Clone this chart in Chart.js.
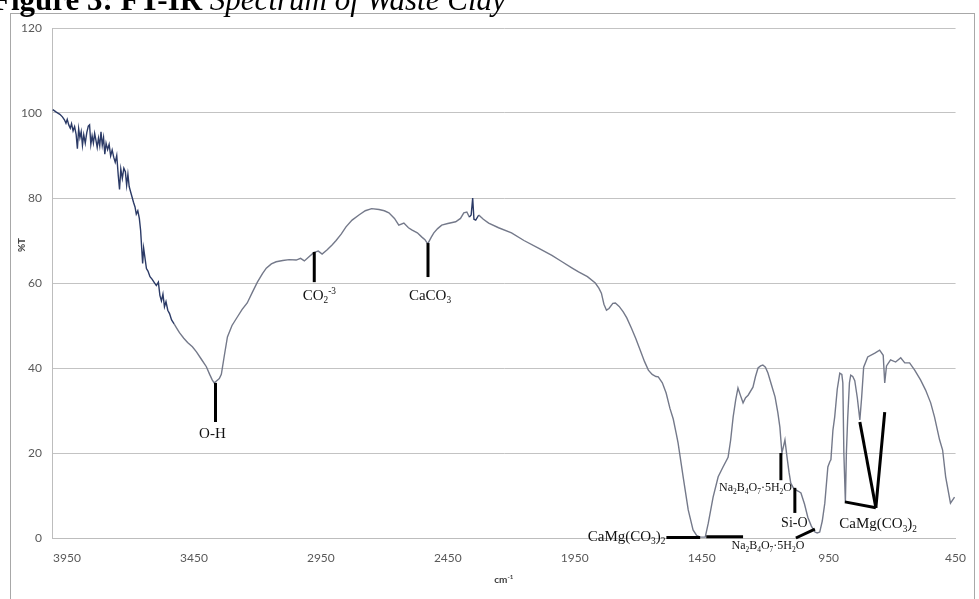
<!DOCTYPE html>
<html><head><meta charset="utf-8">
<script src="https://cdn.jsdelivr.net/npm/chart.js@4.4.1/dist/chart.umd.min.js"></script>
<style>html,body{margin:0;padding:0;background:#fff;overflow:hidden}#wrap{width:979px;height:599px;position:relative}canvas{display:block}</style>
</head><body><div id="wrap"><canvas id="c" width="979" height="599" style="width:979px;height:599px"></canvas></div>
<script>
// ---- data ----
const wavenumbers = [
4006,3992,3978,3968,3960,3954,3949,3943,3937,3932,3926,3920,3914,3909,3904,3899,3894,3889,3884,3878,
3872,3866,3861,3856,3851,3846,3841,3836,3831,3826,3821,3816,3811,3806,3801,3796,3790,3784,3778,3772,
3766,3760,3754,3748,3743,3738,3732,3726,3720,3715,3710,3705,3700,3694,3688,3682,3677,3671,3665,3660,
3656,3652,3648,3643,3637,3631,3623,3615,3606,3598,3590,3584,3578,3572,3566,3560,3553,3546,3538,3528,
3518,3507,3490,3475,3456,3440,3420,3401,3388,3378,3370,3360,3350,3342,3330,3318,3300,3279,3260,3240,
3220,3200,3180,3165,3145,3126,3100,3075,3047,3030,3015,3000,2977,2960,2945,2925,2905,2890,2870,2851,
2827,2800,2775,2750,2721,2700,2682,2660,2643,2623,2605,2592,2570,2552,2540,2529,2515,2505,2490,2474,
2450,2419,2400,2387,2375,2365,2358,2352,2347,2340,2328,2310,2289,2250,2199,2150,2093,2040,2000,1960,
1935,1900,1869,1855,1845,1835,1825,1815,1800,1790,1775,1759,1745,1727,1710,1692,1675,1660,1645,1630,
1621,1605,1590,1575,1562,1550,1543,1523,1503,1484,1470,1456,1436,1424,1405,1385,1366,1346,1336,1326,
1316,1307,1297,1287,1277,1267,1248,1238,1228,1218,1209,1199,1189,1175,1161,1150,1142,1134,1128,1122,
1114,1106,1099,1089,1079,1069,1059,1045,1032,1018,1004,995,985,975,965,953,945,941,933,926,
916,906,898,894,890,884,880,875,868,863,855,847,837,827,820,812,796,768,749,735,
729,722,706,686,666,650,631,611,588,568,548,533,513,501,489,470,454
];
const transmittance = [
100.8,100.2,99.7,99.1,98.4,97.6,98.5,97.2,96.4,97.5,95.8,96.8,95.0,91.6,96.3,94.2,95.6,92.4,94.9,92.9,
95.4,96.9,97.2,92.6,94.6,92.9,95.2,93.6,91.9,94.1,92.3,95.6,92.4,94.2,90.3,92.9,91.4,92.6,89.9,91.3,
89.6,88.4,90.0,85.3,82.0,86.8,84.6,87.0,86.2,83.0,85.6,82.7,81.6,80.3,79.0,77.9,76.2,77.0,75.2,72.4,
68.5,64.6,68.2,66.0,63.4,62.8,61.5,60.9,60.1,59.4,60.2,57.1,55.8,57.4,54.4,55.6,53.6,52.8,51.3,50.4,
49.4,48.3,47.0,46.0,45.0,43.8,42.0,40.3,38.5,37.2,36.5,37.0,37.5,38.5,43.0,47.3,50.0,52.0,53.8,55.3,
57.8,60.2,62.2,63.5,64.5,65.0,65.3,65.5,65.4,65.8,65.2,66.0,67.2,67.5,66.8,67.8,69.0,70.0,71.5,73.2,
74.8,76.0,77.0,77.5,77.3,77.0,76.5,75.2,73.6,74.1,73.0,72.5,71.8,70.8,70.2,69.2,70.8,71.8,72.8,73.6,
74.0,74.4,75.2,76.5,76.7,75.5,76.0,80.0,75.0,74.8,76.0,75.0,74.1,73.0,71.8,70.0,68.2,66.5,65.0,63.5,
62.6,61.5,60.0,58.8,57.6,55.0,53.6,54.0,55.2,55.3,54.5,53.2,51.8,49.4,47.0,44.2,41.5,39.5,38.5,38.0,
37.9,36.5,34.1,30.5,28.0,24.5,22.4,14.4,6.6,1.9,0.6,0.2,0.2,3.5,9.6,14.4,16.7,19.0,23.0,28.5,
32.5,35.3,33.5,31.8,33.0,33.6,35.5,38.0,40.0,40.5,40.7,40.2,38.8,36.0,33.2,29.5,26.1,20.0,21.5,23.1,
19.1,15.5,12.9,11.8,11.3,11.0,10.6,8.0,4.9,2.8,1.4,1.2,1.4,4.0,8.2,16.7,18.0,18.4,25.4,28.5,
35.0,38.8,38.5,36.5,20.0,8.5,20.0,28.0,36.5,38.3,38.0,37.0,33.0,27.8,33.0,40.2,42.6,43.5,44.2,43.0,
36.5,40.5,41.9,41.4,42.4,41.2,41.2,39.5,37.2,34.8,31.8,28.5,23.1,20.7,14.4,8.2,9.6
];
const xTickValues = [3950,3450,2950,2450,1950,1450,950,450];
const yTickValues = [0,20,40,60,80,100,120];

// peak assignment labels: text parts [text, kind], anchored in data units
const NA = [['Na','n'],['2','sub'],['B','n'],['4','sub'],['O','n'],['7','sub'],['\u00b75H','n'],['2','sub'],['O','n']];
const CAMG = [['CaMg(CO','n'],['3','sub'],[')','n'],['2','sub']];
const annotationLabels = [
  {parts:[['O-H','n']], wn:3377, t:24.7, size:15, align:'center'},
  {parts:[['CO','n'],['2','sub'],['-3','sup']], wn:2956, t:57.2, size:15, align:'center'},
  {parts:[['CaCO','n'],['3','sub']], wn:2520, t:57.2, size:15, align:'center'},
  {parts:CAMG, wn:1593, t:0.6, size:15, align:'right'},
  {parts:NA, wn:1189, t:-1.7, size:12, align:'center'},
  {parts:NA, wn:1238, t:12.0, size:12, align:'center'},
  {parts:[['Si-O','n']], wn:1085, t:3.8, size:14, align:'center'},
  {parts:CAMG, wn:755, t:3.5, size:15, align:'center'}
];
const annotationLines = [
  [[3365,36.5],[3365,27.3]],
  [[2976,67.3],[2976,60.2]],
  [[2528,69.4],[2528,61.4]],
  [[1589,0.1],[1456,0.1]],
  [[1432,0.3],[1287,0.3]],
  [[1138,20.0],[1138,13.6]],
  [[1083,11.8],[1083,5.9]],
  [[1079,0.0],[1004,2.1]],
  [[886,8.5],[764,7.1]],
  [[827,27.3],[764,7.1]],
  [[729,29.6],[764,7.1]]
];

function drawRich(ctx, parts, x, y, size, align, family, weight) {
  const segs = parts.map(([t,k]) => {
    const fs = k === 'n' ? size : size * 0.62;
    ctx.font = (weight||'') + ' ' + fs + 'px ' + family;
    return {t, k, fs, w: ctx.measureText(t).width};
  });
  const total = segs.reduce((a,s)=>a+s.w,0);
  let sx = align === 'center' ? x - total/2 : (align === 'right' ? x - total : x);
  const base = y + size * 0.34;
  ctx.textBaseline = 'alphabetic';
  ctx.textAlign = 'left';
  for (const s of segs) {
    const dy = s.k === 'sub' ? size*0.22 : (s.k === 'sup' ? -size*0.42 : 0);
    ctx.font = (weight||'') + ' ' + s.fs + 'px ' + family;
    ctx.fillText(s.t, sx, base + dy);
    sx += s.w;
  }
}

const decorPlugin = {
  id: 'decor',
  beforeDraw(chart) {
    const ctx = chart.ctx;
    ctx.save();
    ctx.fillStyle = '#fff';
    ctx.fillRect(0,0,chart.width,chart.height);
    ctx.strokeStyle = '#a8a8a8';
    ctx.lineWidth = 1;
    ctx.strokeRect(10.5, 13.5, 964, 640);
    ctx.restore();
  },
  afterDraw(chart) {
    const ctx = chart.ctx;
    const xs = chart.scales.x, ys = chart.scales.y;
    ctx.save();
    // figure caption (clipped at top in the reference)
    ctx.fillStyle = '#000';
    ctx.textBaseline = 'alphabetic';
    ctx.textAlign = 'left';
    ctx.font = 'bold 31px "Liberation Serif"';
    const t1 = 'Figure 3: FT-IR ';
    ctx.fillText(t1, -8, 10);
    const w1 = ctx.measureText(t1).width;
    ctx.font = 'italic 31px "Liberation Serif"';
    ctx.fillText('Spectrum of Waste Clay', -8 + w1, 10);
    // axis titles
    ctx.fillStyle = '#404040';
    ctx.save();
    ctx.translate(22, 245);
    ctx.rotate(-Math.PI/2);
    ctx.font = 'bold 10px Lato';
    ctx.textAlign = 'center';
    ctx.textBaseline = 'middle';
    ctx.fillText('%T', 0, 0);
    ctx.restore();
    drawRich(ctx, [['cm','n'],['-1','sup']], (xs.left+xs.right)/2, 580, 10, 'center', 'Lato', 'bold');
    // peak marker lines
    ctx.strokeStyle = '#000';
    ctx.lineWidth = 3;
    ctx.lineCap = 'butt';
    for (const [a,b] of annotationLines) {
      ctx.beginPath();
      ctx.moveTo(xs.getPixelForValue(a[0]), ys.getPixelForValue(a[1]));
      ctx.lineTo(xs.getPixelForValue(b[0]), ys.getPixelForValue(b[1]));
      ctx.stroke();
    }
    // peak labels
    ctx.fillStyle = '#111';
    for (const L of annotationLabels) {
      drawRich(ctx, L.parts, xs.getPixelForValue(L.wn), ys.getPixelForValue(L.t), L.size, L.align, '"Liberation Serif"', '');
    }
    ctx.restore();
  }
};

new Chart(document.getElementById('c'), {
  type: 'line',
  data: {
    datasets: [{
      data: wavenumbers.map((w,i) => ({x: w, y: transmittance[i]})),
      borderColor: '#74798a',
      borderWidth: 1.4,
      pointRadius: 0,
      tension: 0,
      fill: false,
      segment: {
        borderColor: c => {
          const x = c.p0.parsed.x;
          return (x > 3530 || (x < 2370 && x > 2335)) ? '#2b3a66' : '#74798a';
        }
      }
    }]
  },
  options: {
    responsive: false,
    animation: false,
    devicePixelRatio: 1,
    layout: {padding: {left: 0, right: 21, top: 28, bottom: 0}},
    plugins: {legend: {display: false}, tooltip: {enabled: false}, title: {display: false}},
    scales: {
      x: {
        type: 'linear',
        reverse: true,
        min: 450,
        max: 4009,
        afterBuildTicks: s => { s.ticks = xTickValues.map(v => ({value: v})); },
        afterFit: s => { s.height = 61; },
        grid: {display: false, drawTicks: false},
        border: {display: true, color: '#bdbdbd', width: 1},
        ticks: {autoSkip: false, maxRotation: 0, padding: 13, color: '#595959',
                font: {family: 'Lato', size: 12}, callback: v => String(v)}
      },
      y: {
        min: 0,
        max: 120,
        afterBuildTicks: s => { s.ticks = yTickValues.map(v => ({value: v})); },
        afterFit: s => { s.width = 52; },
        grid: {color: '#c3c3c3', lineWidth: 1, drawTicks: false},
        border: {display: true, color: '#bdbdbd', width: 1},
        ticks: {padding: 10, color: '#595959', font: {family: 'Lato', size: 12}, callback: v => String(v)}
      }
    }
  },
  plugins: [decorPlugin]
});
</script>
</body></html>
